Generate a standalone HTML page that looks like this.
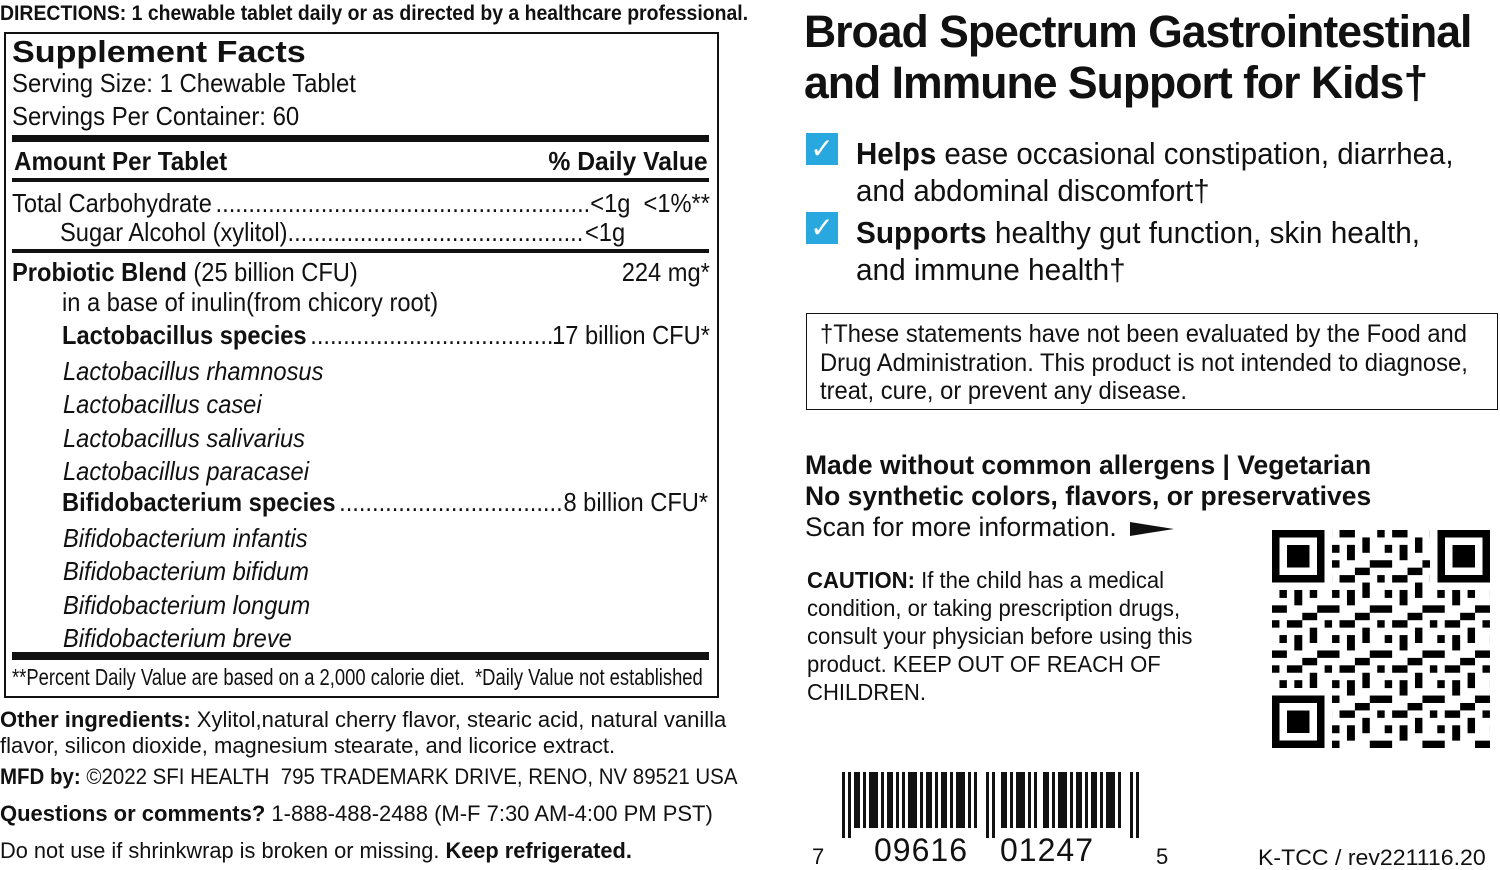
<!DOCTYPE html>
<html><head><meta charset="utf-8">
<style>
*{margin:0;padding:0;box-sizing:border-box}
body{width:1500px;height:870px;background:#fff;position:relative;overflow:hidden;color:#111;font-family:"Liberation Sans",sans-serif}
.a{position:absolute;white-space:nowrap;line-height:1;transform-origin:left top}
.bar{position:absolute;background:#111}
b{font-weight:bold}
i{font-style:italic}
.chk{position:absolute;width:32px;height:32px;background:#29a8e0;color:#fff;font:bold 28px "DejaVu Sans",sans-serif;text-align:center;line-height:32px}
.r{position:absolute;display:flex;white-space:nowrap;line-height:1;transform-origin:left top;font-size:26px}
.r .d{flex:1;overflow:hidden;padding:0 4px}
</style></head><body>
<div class="a" style="left:0;top:3px;font-size:21px;font-weight:bold;transform:scaleX(.925)">DIRECTIONS: 1 chewable tablet daily or as directed by a healthcare professional.</div>
<div style="position:absolute;left:4px;top:32px;width:715px;height:666px;border:2px solid #111"></div>
<div class="a" style="left:12px;top:36px;font-size:31px;font-weight:bold;transform:scaleX(1.1)">Supplement Facts</div>
<div class="a" style="left:12px;top:70px;font-size:26px;transform:scaleX(.92)">Serving Size: 1 Chewable Tablet</div>
<div class="a" style="left:12px;top:103px;font-size:26px;transform:scaleX(.92)">Servings Per Container: 60</div>
<div class="bar" style="left:12px;top:135px;width:697px;height:7px"></div>
<div class="a" style="left:14px;top:148px;font-size:26px;font-weight:bold;transform:scaleX(.93)">Amount Per Tablet</div>
<div class="a" style="right:792px;top:148px;font-size:26px;font-weight:bold;transform:scaleX(.95);transform-origin:right top">% Daily Value</div>
<div class="bar" style="left:12px;top:178px;width:697px;height:4px"></div>
<div class="r" style="left:12px;top:190px;width:767px;transform:scaleX(.91)"><span>Total Carbohydrate</span><span class="d">....................................................................................................................</span><span>&lt;1g&nbsp; &lt;1%**</span></div>
<div class="r" style="left:60px;top:219px;width:621px;transform:scaleX(.91)"><span>Sugar Alcohol (xylitol)</span><span class="d" style="padding-left:0">....................................................................................................................</span><span>&lt;1g</span></div>
<div class="bar" style="left:12px;top:249px;width:697px;height:4px"></div>
<div class="a" style="left:12px;top:259px;font-size:26px;transform:scaleX(.91)"><b>Probiotic Blend</b> (25 billion CFU)</div>
<div class="a" style="right:790px;top:259px;font-size:26px;transform:scaleX(.91);transform-origin:right top">224 mg*</div>
<div class="a" style="left:62px;top:289px;font-size:26px;transform:scaleX(.91)">in a base of inulin(from chicory root)</div>
<div class="r" style="left:62px;top:322px;width:712px;transform:scaleX(.91)"><b>Lactobacillus species</b><span class="d">....................................................................................................................</span><span>17 billion CFU*</span></div>
<div class="a" style="left:63px;top:355px;font-size:26px;line-height:33.4px;transform:scaleX(.91)"><i>Lactobacillus rhamnosus<br>Lactobacillus casei<br>Lactobacillus salivarius<br>Lactobacillus paracasei</i></div>
<div class="r" style="left:62px;top:489px;width:710px;transform:scaleX(.91)"><b>Bifidobacterium species</b><span class="d">....................................................................................................................</span><span>8 billion CFU*</span></div>
<div class="a" style="left:63px;top:522px;font-size:26px;line-height:33.4px;transform:scaleX(.91)"><i>Bifidobacterium infantis<br>Bifidobacterium bifidum<br>Bifidobacterium longum<br>Bifidobacterium breve</i></div>
<div class="bar" style="left:12px;top:652px;width:697px;height:8px"></div>
<div class="a" style="left:12px;top:666px;font-size:23px;transform:scaleX(.8)">**Percent Daily Value are based on a 2,000 calorie diet.&nbsp; *Daily Value not established</div>
<div class="a" style="left:0;top:707px;font-size:22px;line-height:26px;transform:scaleX(1.0)"><b>Other ingredients:</b> Xylitol,natural cherry flavor, stearic acid, natural vanilla<br>flavor, silicon dioxide, magnesium stearate, and licorice extract.</div>
<div class="a" style="left:0;top:766px;font-size:22px;transform:scaleX(.93)"><b>MFD by:</b> ©2022 SFI HEALTH&nbsp; 795 TRADEMARK DRIVE, RENO, NV 89521 USA</div>
<div class="a" style="left:0;top:803px;font-size:22px"><b>Questions or comments?</b> 1-888-488-2488 (M-F 7:30 AM-4:00 PM PST)</div>
<div class="a" style="left:0;top:840px;font-size:22px;transform:scaleX(.99)">Do not use if shrinkwrap is broken or missing. <b>Keep refrigerated.</b></div>

<div class="a" style="left:804px;top:6px;font-size:45px;font-weight:bold;line-height:51px;letter-spacing:-1px;transform:scaleX(.99)">Broad Spectrum Gastrointestinal<br>and Immune Support for Kids†</div>
<div class="chk" style="left:806px;top:133px">✓</div>
<div class="chk" style="left:806px;top:212px">✓</div>
<div class="a" style="left:856px;top:135px;font-size:31px;line-height:37px;transform:scaleX(.95)"><b>Helps</b> ease occasional constipation, diarrhea,<br>and abdominal discomfort†</div>
<div class="a" style="left:856px;top:214px;font-size:31px;line-height:37px;transform:scaleX(.96)"><b>Supports</b> healthy gut function, skin health,<br>and immune health†</div>
<div style="position:absolute;left:806px;top:313px;width:692px;height:97px;border:1.5px solid #111"></div>
<div class="a" style="left:820px;top:320px;font-size:25px;line-height:28.5px;transform:scaleX(.95)">†These statements have not been evaluated by the Food and<br>Drug Administration. This product is not intended to diagnose,<br>treat, cure, or prevent any disease.</div>
<div class="a" style="left:805px;top:450px;font-size:27px;font-weight:bold;line-height:31px;transform:scaleX(.98)">Made without common allergens | Vegetarian<br>No synthetic colors, flavors, or preservatives</div>
<div class="a" style="left:805px;top:514px;font-size:27px;transform:scaleX(.98)">Scan for more information.</div>
<svg style="position:absolute;left:1130px;top:522px" width="44" height="14"><polygon points="0,0 44,7 0,14" fill="#111"/></svg>
<div class="a" style="left:807px;top:566px;font-size:23px;line-height:28px;transform:scaleX(.96)"><b>CAUTION:</b> If the child has a medical<br>condition, or taking prescription drugs,<br>consult your physician before using this<br>product. KEEP OUT OF REACH OF<br>CHILDREN.</div>

<svg style="position:absolute;left:1272px;top:530px" width="218" height="218" viewBox="0 0 29 29" shape-rendering="crispEdges">
<defs><pattern id="p" width="7" height="6" patternUnits="userSpaceOnUse"><rect x="0" y="0" width="1" height="1"/><rect x="2" y="0" width="2" height="1"/><rect x="5" y="1" width="1" height="2"/><rect x="1" y="2" width="1" height="1"/><rect x="3" y="2" width="1" height="2"/><rect x="6" y="4" width="1" height="1"/><rect x="0" y="4" width="2" height="1"/><rect x="4" y="5" width="2" height="1"/></pattern></defs>
<rect x="0" y="0" width="29" height="29" fill="url(#p)"/>
<g><rect x="0" y="0" width="8" height="8" fill="#fff"/><rect x="21" y="0" width="8" height="8" fill="#fff"/><rect x="0" y="21" width="8" height="8" fill="#fff"/>
<rect x="0" y="0" width="7" height="7"/><rect x="1" y="1" width="5" height="5" fill="#fff"/><rect x="2" y="2" width="3" height="3"/>
<rect x="22" y="0" width="7" height="7"/><rect x="23" y="1" width="5" height="5" fill="#fff"/><rect x="24" y="2" width="3" height="3"/>
<rect x="0" y="22" width="7" height="7"/><rect x="1" y="23" width="5" height="5" fill="#fff"/><rect x="2" y="24" width="3" height="3"/></g>
</svg>

<svg style="position:absolute;left:842px;top:772px" width="300" height="66" shape-rendering="crispEdges">
<g fill="#111">
<rect x="0" width="3" height="66"/><rect x="6" width="3" height="66"/><rect x="12" width="6" height="56"/><rect x="21" width="3" height="56"/><rect x="27" width="9" height="56"/><rect x="39" width="3" height="56"/><rect x="45" width="6" height="56"/><rect x="54" width="3" height="56"/><rect x="60" width="3" height="56"/><rect x="66" width="9" height="56"/><rect x="78" width="3" height="56"/><rect x="84" width="6" height="56"/><rect x="93" width="3" height="56"/><rect x="99" width="6" height="56"/><rect x="108" width="3" height="56"/><rect x="114" width="9" height="56"/><rect x="126" width="3" height="56"/><rect x="132" width="3" height="56"/>
<rect x="144" width="3" height="66"/><rect x="150" width="3" height="66"/>
<rect x="159" width="6" height="56"/><rect x="168" width="3" height="56"/><rect x="174" width="9" height="56"/><rect x="186" width="3" height="56"/><rect x="192" width="3" height="56"/><rect x="201" width="6" height="56"/><rect x="210" width="3" height="56"/><rect x="216" width="9" height="56"/><rect x="228" width="3" height="56"/><rect x="234" width="6" height="56"/><rect x="243" width="3" height="56"/><rect x="249" width="6" height="56"/><rect x="258" width="3" height="56"/><rect x="264" width="9" height="56"/><rect x="276" width="3" height="56"/>
<rect x="288" width="3" height="66"/><rect x="294" width="3" height="66"/>
</g></svg>
<div class="a" style="left:812px;top:846px;font-size:22px">7</div>
<div class="a" style="left:874px;top:834px;font-size:32px;letter-spacing:1px">09616</div>
<div class="a" style="left:1000px;top:834px;font-size:32px;letter-spacing:1px">01247</div>
<div class="a" style="left:1156px;top:846px;font-size:22px">5</div>
<div class="a" style="left:1258px;top:847px;font-size:22px;transform:scaleX(1.05)">K-TCC / rev221116.20</div>
</body></html>
